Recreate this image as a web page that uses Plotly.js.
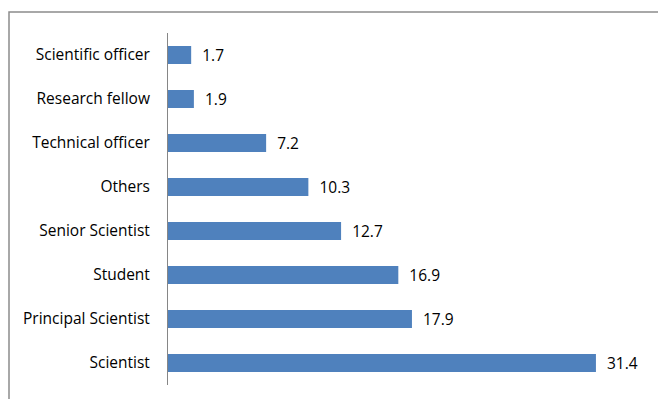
<!DOCTYPE html>
<html>
<head>
<meta charset="utf-8">
<script src="https://cdn.plot.ly/plotly-3.0.1.min.js"></script>
<style>html,body{margin:0;padding:0;background:#fff;}#chart{width:658px;height:399px;}</style>
</head>
<body>
<div id="chart"></div>
<script>
const categories = ["Scientific officer","Research fellow","Technical officer","Others","Senior Scientist","Student","Principal Scientist","Scientist"];
const values = [1.7, 1.9, 7.2, 10.3, 12.7, 16.9, 17.9, 31.4];

const FONT = '"Open Sans", "Noto Sans", sans-serif';

const trace = {
  type: 'bar',
  orientation: 'h',
  y: categories,
  x: values,
  width: 0.41,
  marker: {color: '#4F81BD'},
  text: values.map(v => v.toFixed(1)),
  texttemplate: '  %{text}',
  textposition: 'outside',
  constraintext: 'none',
  cliponaxis: false,
  textfont: {family: FONT, size: 15.5, color: '#000'},
  hoverinfo: 'none'
};

const layout = {
  width: 658, height: 399,
  margin: {l: 168, r: 13, t: 33, b: 14, pad: 0},
  paper_bgcolor: '#fff', plot_bgcolor: '#fff',
  showlegend: false,
  font: {family: FONT, size: 15.5, color: '#000'},
  xaxis: {range: [0, 35], visible: false, showgrid: false, zeroline: false, fixedrange: true},
  yaxis: {
    autorange: 'reversed', showline: true, linecolor: '#868686', linewidth: 1,
    ticks: '', ticklabelstandoff: 14, showgrid: false, zeroline: false,
    tickfont: {family: FONT, size: 15.5, color: '#000'}
  },
  shapes: [{
    type: 'rect', xref: 'paper', yref: 'paper',
    x0: (9 - 168) / 477, x1: 1.2, y0: -0.2, y1: (385 - 12) / 352,
    line: {color: '#8c8c8c', width: 1.5}, fillcolor: 'rgba(0,0,0,0)', layer: 'below'
  }]
};

Plotly.newPlot('chart', [trace], layout, {staticPlot: true, displayModeBar: false});
</script>
</body>
</html>
